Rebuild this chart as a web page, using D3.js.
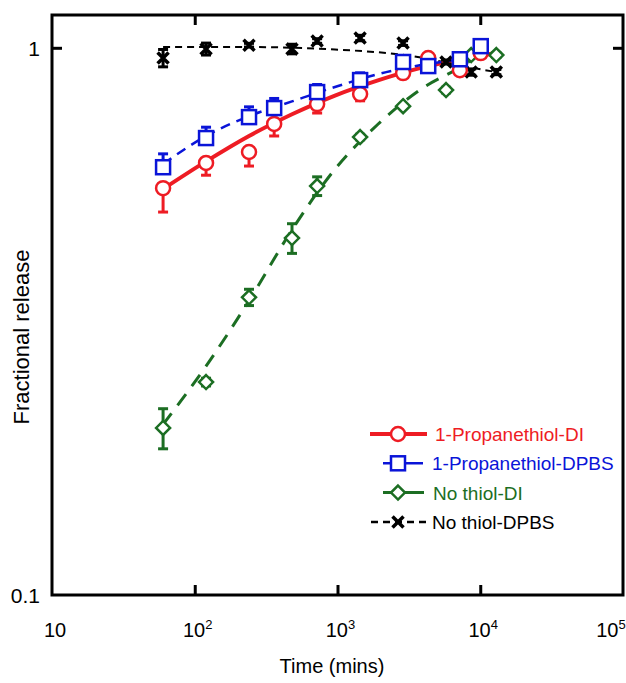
<!DOCTYPE html>
<html>
<head>
<meta charset="utf-8">
<script src="https://cdn.jsdelivr.net/npm/d3@7"></script>
<style>
  body { margin: 0; background: #fff; }
  svg text { font-family: "Liberation Sans", Arial, sans-serif; }
</style>
</head>
<body>
<svg id="chart" width="626" height="683"></svg>
<script>
// time points (mins)
const timesA = [60, 120, 240, 360, 720, 1440, 2880, 4320, 7200, 10080];
const timesB = [60, 120, 240, 480, 720, 1440, 2880, 5760, 7200, 8640, 12960];

// 1-Propanethiol-DI
const redVals = [0.554, 0.616, 0.645, 0.726, 0.789, 0.823, 0.899, 0.958, 0.910, 0.978];
const redLow  = [0.501, 0.585, 0.608, 0.690, 0.760, 0.800, 0.885, 0.945, 0.895, 0.965];
// 1-Propanethiol-DPBS
const blueVals = [0.605, 0.684, 0.747, 0.776, 0.830, 0.873, 0.942, 0.926, 0.953, 1.007];
const blueHigh = [0.640, 0.716, 0.780, 0.808, 0.857, 0.900, 0.960, 0.940, 0.968, 1.020];
// No thiol-DI
const greenVals = [0.202, 0.245, 0.350, 0.449, 0.559, 0.687, 0.782, 0.837, 0.938, 0.970, 0.970];
const greenErr  = [0.017, 0.004, 0.012, 0.028, 0.022, 0.008, 0.006, 0.010, 0.010, 0.010, 0.010];
// No thiol-DPBS
const blackVals = [0.958, 0.995, 1.011, 0.995, 1.029, 1.042, 1.020, 0.942, 0.938, 0.903, 0.903];
const blackErr  = [0.035, 0.025, 0.008, 0.020, 0.010, 0.012, 0.010, 0.008, 0.008, 0.012, 0.010];

// fitted curves
const redFitT   = [60, 120, 240, 480, 960, 1920, 3840, 7680, 12000];
const redFitV   = [0.552, 0.620, 0.690, 0.756, 0.818, 0.872, 0.919, 0.955, 0.975];
const blueFitT  = [60, 120, 240, 480, 960, 1920, 3840, 7680, 10080];
const blueFitV  = [0.613, 0.690, 0.750, 0.798, 0.848, 0.895, 0.930, 0.962, 1.000];
const greenFitT = [60, 120, 240, 480, 960, 1920, 3840, 7680, 10000];
const greenFitV = [0.205, 0.262, 0.345, 0.465, 0.600, 0.725, 0.840, 0.930, 0.975];
const blackFitT = [60, 240, 960, 3840, 7680, 12960];
const blackFitV = [1.003, 1.003, 0.993, 0.960, 0.925, 0.903];

const xTicks = [10, 100, 1000, 10000, 100000];
const xTickLabels = [["10", ""], ["10", "2"], ["10", "3"], ["10", "4"], ["10", "5"]];
const yTicks = [0.1, 1];
const yTickLabels = ["0.1", "1"];

const legendNames = ["1-Propanethiol-DI", "1-Propanethiol-DPBS", "No thiol-DI", "No thiol-DPBS"];

const RED = "#ee1c24", BLUE = "#0a14d8", GREEN = "#1c6e23", BLACK = "#000";

const svg = d3.select("#chart");
const plotLeft = 52, plotRight = 623, plotTop = 15, plotBottom = 595;

const x = d3.scaleLog().domain([10, 100000]).range([plotLeft, plotRight]);
const y = d3.scaleLog().domain([0.1, 1.148]).range([plotBottom, plotTop]);

// frame
svg.append("rect")
  .attr("x", plotLeft).attr("y", plotTop)
  .attr("width", plotRight - plotLeft).attr("height", plotBottom - plotTop)
  .attr("fill", "none").attr("stroke", "#000").attr("stroke-width", 3);

// ticks (inward, on all sides)
const inner = xTicks.slice(1, -1);
svg.append("g").attr("transform", `translate(0,${plotBottom})`)
  .call(d3.axisBottom(x).tickValues(inner).tickSize(-10).tickFormat(""))
  .call(g => g.select(".domain").remove())
  .selectAll("line").attr("stroke-width", 3);
svg.append("g").attr("transform", `translate(0,${plotTop})`)
  .call(d3.axisTop(x).tickValues(inner).tickSize(-10).tickFormat(""))
  .call(g => g.select(".domain").remove())
  .selectAll("line").attr("stroke-width", 3);
svg.append("g").attr("transform", `translate(${plotLeft},0)`)
  .call(d3.axisLeft(y).tickValues([1]).tickSize(-10).tickFormat(""))
  .call(g => g.select(".domain").remove())
  .selectAll("line").attr("stroke-width", 3);
svg.append("g").attr("transform", `translate(${plotRight},0)`)
  .call(d3.axisRight(y).tickValues([1]).tickSize(-10).tickFormat(""))
  .call(g => g.select(".domain").remove())
  .selectAll("line").attr("stroke-width", 3);

// tick labels
xTicks.forEach((t, i) => {
  const tx = svg.append("text")
    .attr("x", i === xTicks.length - 1 ? x(t) - 12 : x(t) + 3)
    .attr("y", 637)
    .attr("text-anchor", "middle")
    .attr("font-size", 20);
  tx.append("tspan").text(xTickLabels[i][0]);
  if (xTickLabels[i][1]) {
    tx.append("tspan").attr("font-size", 13).attr("dy", -8).text(xTickLabels[i][1]);
  }
});
yTicks.forEach((v, i) => {
  svg.append("text")
    .attr("x", 40).attr("y", y(v) + 8)
    .attr("text-anchor", "end")
    .attr("font-size", 21)
    .text(yTickLabels[i]);
});

// axis titles
svg.append("text")
  .attr("x", 332).attr("y", 673)
  .attr("text-anchor", "middle").attr("font-size", 20)
  .text("Time (mins)");
svg.append("text")
  .attr("transform", `translate(29,337) rotate(-90)`)
  .attr("text-anchor", "middle").attr("font-size", 22)
  .text("Fractional release");

const line = d3.line().x(d => x(d[0])).y(d => y(d[1])).curve(d3.curveMonotoneX);
const zip = (a, b) => a.map((v, i) => [v, b[i]]);

// fitted lines
svg.append("path").datum(zip(blackFitT, blackFitV)).attr("d", line)
  .attr("fill", "none").attr("stroke", BLACK).attr("stroke-width", 2).attr("stroke-dasharray", "7,5");
svg.append("path").datum(zip(greenFitT, greenFitV)).attr("d", line)
  .attr("fill", "none").attr("stroke", GREEN).attr("stroke-width", 3).attr("stroke-dasharray", "14,10");
svg.append("path").datum(zip(redFitT, redFitV)).attr("d", line)
  .attr("fill", "none").attr("stroke", RED).attr("stroke-width", 4);
svg.append("path").datum(zip(blueFitT, blueFitV)).attr("d", line)
  .attr("fill", "none").attr("stroke", BLUE).attr("stroke-width", 2.5).attr("stroke-dasharray", "10,7");

// error bars
function errBars(ts, lo, hi, color) {
  const g = svg.append("g").attr("stroke", color).attr("stroke-width", 3);
  ts.forEach((t, i) => {
    const cx = x(t);
    g.append("line").attr("x1", cx).attr("x2", cx).attr("y1", y(lo[i])).attr("y2", y(hi[i]));
    g.append("line").attr("x1", cx - 5).attr("x2", cx + 5).attr("y1", y(lo[i])).attr("y2", y(lo[i]));
    g.append("line").attr("x1", cx - 5).attr("x2", cx + 5).attr("y1", y(hi[i])).attr("y2", y(hi[i]));
  });
}
errBars(timesB, blackVals.map((v, i) => v - blackErr[i]), blackVals.map((v, i) => v + blackErr[i]), BLACK);
errBars(timesB, greenVals.map((v, i) => v - greenErr[i]), greenVals.map((v, i) => v + greenErr[i]), GREEN);
errBars(timesA, redLow, redVals, RED);
errBars(timesA, blueVals, blueHigh, BLUE);

// markers
function marker(g, type, color) {
  if (type === "circle") {
    g.append("circle").attr("r", 7).attr("fill", "#fff").attr("stroke", color).attr("stroke-width", 2.5);
  } else if (type === "square") {
    g.append("rect").attr("x", -7).attr("y", -7).attr("width", 14).attr("height", 14)
      .attr("fill", "#fff").attr("stroke", color).attr("stroke-width", 2.5);
  } else if (type === "diamond") {
    g.append("path").attr("d", "M0,-7L7,0L0,7L-7,0Z")
      .attr("fill", "#fff").attr("stroke", color).attr("stroke-width", 2.5);
  } else {
    g.append("path").attr("d", "M-5.5,-5.5L5.5,5.5M-5.5,5.5L5.5,-5.5")
      .attr("fill", "none").attr("stroke", color).attr("stroke-width", 3.5);
  }
}
function points(ts, vals, type, color) {
  ts.forEach((t, i) => {
    const g = svg.append("g").attr("transform", `translate(${x(t)},${y(vals[i])})`);
    marker(g, type, color);
  });
}
points(timesB, blackVals, "x", BLACK);
points(timesB, greenVals, "diamond", GREEN);
points(timesA, redVals, "circle", RED);
points(timesA, blueVals, "square", BLUE);

// legend
const legendRows = [
  { name: legendNames[0], color: RED, type: "circle", x1: 370, x2: 427, dash: null, w: 4, tx: 435 },
  { name: legendNames[1], color: BLUE, type: "square", x1: 383, x2: 423, dash: null, w: 2.5, tx: 432 },
  { name: legendNames[2], color: GREEN, type: "diamond", x1: 383, x2: 424, dash: null, w: 3, tx: 433 },
  { name: legendNames[3], color: BLACK, type: "x", x1: 371, x2: 427, dash: "7,5", w: 2.5, tx: 432 }
];
legendRows.forEach((r, i) => {
  const ly = 434 + i * 29.3;
  svg.append("line").attr("x1", r.x1).attr("x2", r.x2).attr("y1", ly).attr("y2", ly)
    .attr("stroke", r.color).attr("stroke-width", r.w).attr("stroke-dasharray", r.dash);
  const g = svg.append("g").attr("transform", `translate(398,${ly})`);
  marker(g, r.type, r.color);
  svg.append("text").attr("x", r.tx).attr("y", ly + 7)
    .attr("font-size", 19).attr("fill", r.color)
    .text(r.name);
});
</script>
</body>
</html>
